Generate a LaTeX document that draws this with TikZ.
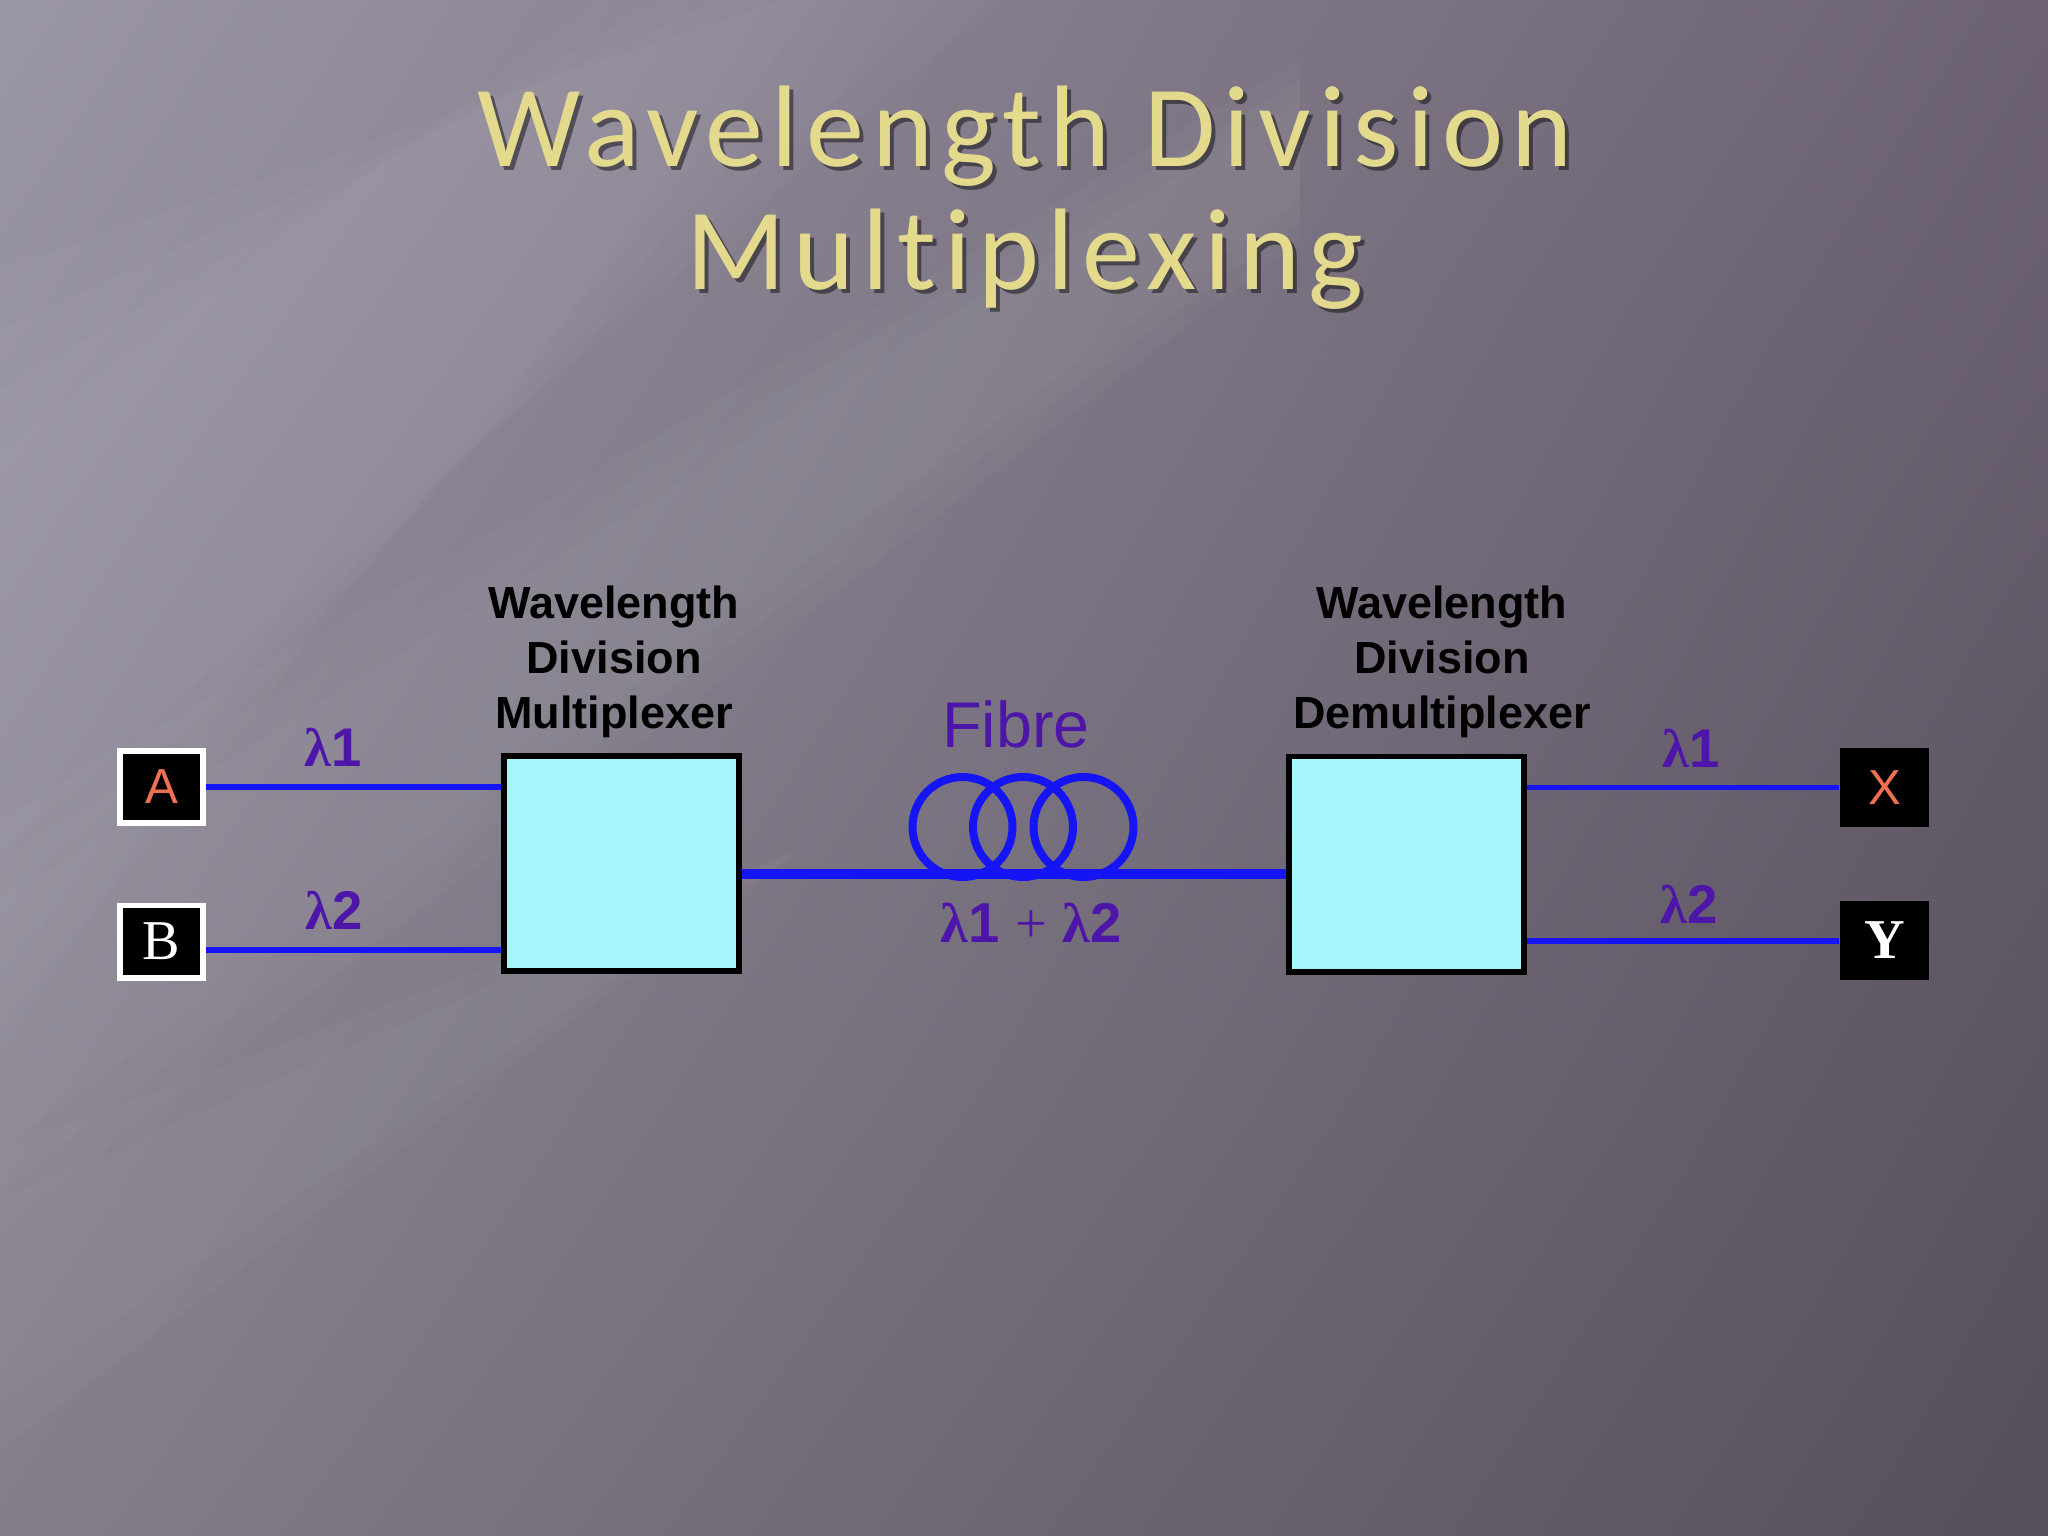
\documentclass[tikz,border=0pt]{standalone}
\usepackage{fontspec}
\setmainfont{Liberation Sans}
\newfontfamily\titlefont[LetterSpace=7, Ligatures=NoCommon]{Carlito}
\newfontfamily\lamfont{Liberation Serif}
\usepackage{tikz}
\usetikzlibrary{positioning, shadings}
\definecolor{bgUL}{RGB}{155,150,165}
\definecolor{bgUR}{RGB}{108,98,114}
\definecolor{bgLL}{RGB}{132,126,138}
\definecolor{bgLR}{RGB}{86,78,90}
\definecolor{cyanbox}{RGB}{166,245,250}
\definecolor{fibreblue}{RGB}{20,20,245}
\definecolor{lampurple}{RGB}{78,22,168}
\definecolor{letterred}{RGB}{242,112,82}
\definecolor{titlegold}{RGB}{228,218,142}
\newcommand{\wl}{{\lamfont λ}}
\tikzstyle{station} = [rectangle, minimum width=0.83cm, minimum height=0.72cm, inner sep=0pt, line width=0.06cm, draw=white, fill=black]
\tikzstyle{sink} = [rectangle, minimum width=0.89cm, minimum height=0.79cm, inner sep=0pt, fill=black]
\tikzstyle{wdm} = [rectangle, minimum width=2.35cm, minimum height=2.15cm, line width=0.06cm, draw=black, fill=cyanbox]
\tikzstyle{sig} = [draw=fibreblue, line width=0.06cm]
\tikzstyle{lam} = [text=lampurple, font=\fontsize{15.5}{18}\selectfont\bfseries]
\tikzstyle{head} = [align=center, font=\fontsize{12.8}{15.6}\selectfont\bfseries]
\tikzstyle{title} = [font=\titlefont\fontsize{33}{38}\selectfont, anchor=base]
\tikzstyle{streak} = [white, opacity=0.025]

\begin{document}
\begin{tikzpicture}
		% background
		\shade[upper left=bgUL, upper right=bgUR, lower left=bgLL, lower right=bgLR] (0,0) rectangle (20.48,-15.36);
		\foreach \w in {0,0.6,1.2,1.8}
			\fill[streak] (0,-4.5+\w) -- (6+\w,0) -- (10-\w,0) -- (0,-8.5-\w) -- cycle;
		\foreach \w in {0,0.4,0.8}
			\fill[streak] (0,-9+\w) -- (13,-1+\w/2) -- (13,-2-\w/2) -- (0,-11.5-\w) -- cycle;
		\foreach \w in {0,0.5}
			\fill[streak] (0,-12+\w) -- (8,-8.5) -- (0,-14-\w) -- cycle;
		\useasboundingbox (0,0) rectangle (20.48,-15.36);

		% title
		\node (t1s) [title, text=black, opacity=0.45] at (10.29,-1.71) {Wavelength Division};
		\node (t2s) [title, text=black, opacity=0.45] at (10.29,-2.94) {Multiplexing};
		\node (t1) [title, text=titlegold] at (10.25,-1.67) {Wavelength Division};
		\node (t2) [title, text=titlegold] at (10.25,-2.90) {Multiplexing};

		% end stations
		\node (A) [station] at (1.615,-7.87) {\textcolor{letterred}{\fontsize{14}{14}\selectfont A}};
		\node (B) [station] at (1.615,-9.415) {\textcolor{white}{\lamfont\fontsize{16}{16}\selectfont B}};
		\node (X) [sink] at (18.845,-7.875) {\textcolor{letterred}{\fontsize{14}{14}\selectfont X}};
		\node (Y) [sink] at (18.845,-9.405) {\textcolor{white}{\lamfont\bfseries\fontsize{16}{16}\selectfont Y}};

		% multiplexer and demultiplexer
		\node (mux) [wdm] at (6.215,-8.635) {};
		\node (demux) [wdm] at (14.065,-8.64) {};
		\node (muxlbl) [head] at (6.14,-6.62) {Wavelength\\Division\\Multiplexer};
		\node (demuxlbl) [head] at (14.42,-6.62) {Wavelength\\Division\\Demultiplexer};

		% signal lines
		\draw[sig] (A.east) -- (A.east -| mux.west);
		\draw[sig] ([yshift=-0.09cm]B.east) -- ([yshift=-0.09cm]B.east -| mux.west);
		\draw[sig] (demux.east |- X.west) -- (X.west);
		\draw[sig] (demux.east |- Y.west) -- (Y.west);
		\node (l1a) [lam] at (3.33,-7.47) {\wl1};
		\node (l2a) [lam] at (3.34,-9.10) {\wl2};
		\node (l1b) [lam] at (16.91,-7.48) {\wl1};
		\node (l2b) [lam] at (16.89,-9.04) {\wl2};

		% fibre with coils
		\draw[sig, line width=0.1cm] ([yshift=-0.1cm]mux.east) -- ([yshift=-0.1cm]mux.east -| demux.west);
		\foreach \cx in {9.625,10.23,10.835}
			\draw[sig, line width=0.08cm] (\cx,-8.27) circle (0.5);
		\node (fib) [text=lampurple, font=\fontsize{18.4}{20}\selectfont] at (10.16,-7.24) {Fibre};
		\node (sum) [lam, font=\fontsize{16}{18}\selectfont\bfseries] at (10.31,-9.23) {\wl1 {\mdseries\lamfont +} \wl2};
	\end{tikzpicture}
\end{document}
